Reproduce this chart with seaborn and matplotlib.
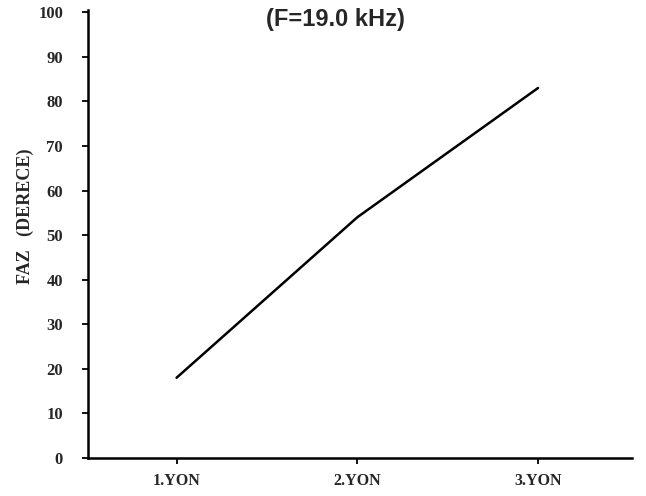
import matplotlib
matplotlib.use("Agg")
import matplotlib.pyplot as plt
import seaborn as sns
import pandas as pd

categories = ["1.YON", "2.YON", "3.YON"]
phase_deg = [18, 54, 83]
yticks = [0, 10, 20, 30, 40, 50, 60, 70, 80, 90, 100]

sns.set_style("ticks")
plt.rcParams["font.family"] = ["Liberation Serif", "DejaVu Serif"]

df = pd.DataFrame({"pos": range(len(categories)), "faz": phase_deg})

fig = plt.figure(figsize=(6.46, 4.96), dpi=100)
ax = fig.add_axes([88 / 646, 38 / 496, (632 - 88) / 646, (458 - 10) / 496])

sns.lineplot(data=df, x="pos", y="faz", ax=ax, color="black", linewidth=1.8)

ax.set_xlim(-0.49, 2.52)
ax.set_ylim(0, 100.5)
ax.set_xticks(range(len(categories)))
ax.set_xticklabels(categories, fontsize=11.5, fontweight="bold")
ax.set_yticks(yticks)
ax.set_yticklabels([str(v) for v in yticks], fontsize=12, fontweight="bold")
ax.tick_params(axis="y", direction="out", length=4, width=1.3, color="black", pad=14)
ax.tick_params(axis="x", direction="out", length=4, width=1.3, color="black", pad=7)
for side in ("left", "bottom"):
    ax.spines[side].set_linewidth(1.8)
    ax.spines[side].set_color("black")
sns.despine(ax=ax)

ax.set_xlabel("")
ax.set_ylabel("FAZ   (DERECE)", fontsize=13, fontweight="bold")
ax.yaxis.set_label_coords(-0.1, 0.54)

fig.text(0.52, 0.96, "(F=19.0 kHz)", ha="center", va="center",
         fontsize=17, fontweight="bold", family=["Liberation Sans", "DejaVu Sans"])

fig.savefig("out.png", dpi=100)
